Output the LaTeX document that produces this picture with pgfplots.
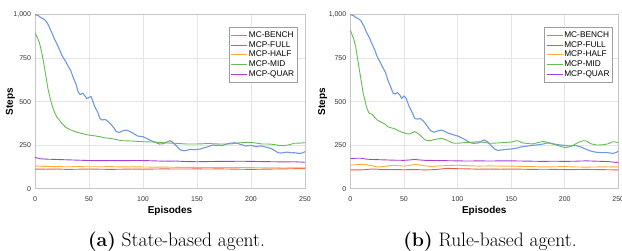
\documentclass[border=0pt]{standalone}
\usepackage{fontspec}
\setsansfont{Liberation Sans}
\usepackage{pgfplots}
\pgfplotsset{compat=1.18}
\definecolor{cblue}{RGB}{112,152,226}
\definecolor{cred}{RGB}{232,92,70}
\definecolor{corange}{RGB}{255,172,60}
\definecolor{cgreen}{RGB}{104,186,84}
\definecolor{cpurple}{RGB}{168,64,212}
\newcommand{\labfont}{\sffamily\bfseries\fontsize{10}{12}\selectfont}
\pgfplotsset{
  mystyle/.style={
    anchor=south west, scale only axis, height=174pt,
    xmin=0, xmax=250, ymin=0, ymax=1000,
    xtick={0,50,100,150,200,250}, ytick={0,250,500,750,1000},
    grid=major, grid style={gray!20, line width=0.6pt},
    axis line style={gray!45, line width=0.6pt},
    major tick length=0pt,
    /pgf/number format/assume math mode=true,
    /pgf/number format/1000 sep={,},
    tick label style={font=\sffamily\fontsize{7}{8}\selectfont, text=black!80},
    xticklabel style={yshift=-4.5pt},
    yticklabel style={xshift=-0.5pt},
    xlabel={Episodes}, ylabel={Steps},
    legend style={draw=gray!75, fill=white,
      font=\sffamily\fontsize{8.3}{9.5}\selectfont, anchor=north west,
      inner xsep=1.5pt, inner ysep=3.2pt, nodes={inner sep=1.2pt}},
    legend cell align=left,
    legend image code/.code={\draw[#1] (0pt,0pt) -- (16pt,0pt);},
    every axis plot/.append style={line width=0.9pt, line join=round, mark=none},
  }
}
\begin{document}
\begin{tikzpicture}
\path[use as bounding box] (0pt,0pt) rectangle (622pt,250pt);
% ---------------- Left panel
\begin{axis}[mystyle, at={(35pt,61.3pt)}, width=270pt,
  every axis x label/.style={at={(axis description cs:0.5,-0.1425)}, anchor=base, font=\labfont},
  every axis y label/.style={at={(axis description cs:-0.0907,0.5)}, rotate=90, anchor=center, font=\labfont},
  legend style={at={(axis description cs:0.7185,0.929)}}]
\addplot[cblue, line width=1.1pt] coordinates {(0,1000)(3,995)(5,985)(8,975)(10,965)(12,945)(15,905)(18,860)(20,835)(23,795)(25,765)(28,735)(30,712)(33,680)(35,645)(38,600)(40,555)(42,540)(44,550)(46,535)(48,518)(50,525)(52,530)(55,475)(58,440)(60,405)(62,395)(65,398)(68,385)(70,372)(73,350)(75,330)(78,322)(80,330)(83,335)(85,337)(88,328)(90,322)(93,310)(95,303)(98,300)(100,299)(103,290)(105,284)(108,275)(110,270)(113,262)(115,257)(118,258)(120,262)(123,270)(125,276)(127,270)(130,252)(133,232)(135,222)(138,218)(140,220)(143,225)(145,226)(148,224)(150,226)(153,228)(155,232)(158,238)(160,241)(163,248)(165,251)(168,248)(170,251)(173,248)(175,252)(178,258)(180,261)(183,263)(185,264)(188,260)(190,255)(193,250)(195,245)(198,248)(200,249)(203,244)(205,241)(208,246)(210,245)(213,240)(215,238)(218,232)(220,226)(223,215)(225,207)(228,205)(230,207)(233,210)(235,209)(238,206)(240,207)(243,204)(245,203)(248,206)(250,213)};
\addlegendentry{MC-BENCH}
\addplot[cred] coordinates {(0,113)(10,112)(20,113)(30,111)(40,112)(50,113)(60,112)(70,111)(80,112)(90,113)(100,112)(110,113)(120,114)(130,113)(140,113)(150,114)(160,113)(170,114)(180,113)(190,112)(200,111)(210,112)(220,113)(230,114)(240,115)(250,115)};
\addlegendentry{MCP-FULL}
\addplot[corange] coordinates {(0,130)(10,128)(20,127)(30,126)(40,127)(50,126)(60,126)(70,127)(80,125)(90,126)(100,125)(110,124)(120,124)(130,123)(140,123)(150,122)(160,122)(170,121)(180,121)(190,122)(200,121)(210,120)(220,120)(230,119)(240,120)(250,120)};
\addlegendentry{MCP-HALF}
\addplot[cgreen] coordinates {(0,895)(2,870)(4,840)(6,790)(8,725)(10,650)(12,575)(14,520)(16,475)(18,440)(20,414)(23,390)(25,375)(28,355)(30,347)(33,338)(35,333)(38,326)(40,322)(45,315)(50,308)(55,304)(60,299)(65,292)(70,289)(75,283)(80,276)(85,275)(90,274)(95,272)(100,270)(110,268)(120,264)(125,262)(130,261)(140,257)(150,257)(155,258)(160,261)(165,258)(170,257)(180,257)(185,260)(190,264)(195,266)(200,266)(205,262)(210,257)(215,257)(220,255)(225,250)(230,247)(235,252)(240,261)(245,262)(250,264)};
\addlegendentry{MCP-MID}
\addplot[cpurple] coordinates {(0,180)(5,172)(10,170)(20,168)(30,166)(40,164)(50,162)(60,161)(70,162)(80,161)(90,162)(100,162)(110,160)(120,158)(130,159)(140,156)(150,155)(160,156)(170,157)(180,157)(190,158)(200,157)(210,156)(220,155)(230,154)(240,155)(250,152)};
\addlegendentry{MCP-QUAR}
\end{axis}
% ---------------- Right panel
\begin{axis}[mystyle, at={(350.3pt,61.3pt)}, width=268pt,
  every axis x label/.style={at={(axis description cs:0.5,-0.1425)}, anchor=base, font=\labfont},
  every axis y label/.style={at={(axis description cs:-0.103,0.5)}, rotate=90, anchor=center, font=\labfont},
  legend style={at={(axis description cs:0.724,0.929)}}]
\addplot[cblue, line width=1.1pt] coordinates {(0,1000)(3,995)(5,985)(8,975)(10,965)(13,930)(15,900)(18,865)(20,835)(23,795)(25,760)(28,725)(30,701)(33,665)(35,625)(38,580)(40,548)(42,545)(44,552)(46,540)(48,519)(50,533)(52,520)(55,471)(58,435)(60,404)(63,400)(65,404)(68,390)(70,375)(73,350)(75,333)(78,325)(80,328)(83,335)(85,337)(88,330)(90,322)(95,312)(100,303)(103,295)(105,289)(108,278)(110,270)(113,263)(115,261)(118,262)(120,264)(123,275)(125,280)(128,270)(130,257)(133,238)(135,226)(138,220)(140,222)(145,226)(150,228)(155,233)(160,241)(165,245)(170,249)(175,252)(180,257)(183,262)(185,264)(188,260)(190,257)(195,252)(200,249)(205,245)(210,249)(215,240)(220,226)(225,215)(230,209)(235,207)(240,207)(245,203)(248,208)(250,216)};
\addlegendentry{MC-BENCH}
\addplot[cred] coordinates {(0,108)(10,108)(20,113)(25,112)(30,110)(40,110)(50,109)(60,110)(70,108)(80,110)(90,117)(100,115)(110,114)(120,112)(130,113)(140,112)(150,113)(160,112)(170,111)(180,112)(190,111)(200,110)(210,110)(220,111)(230,110)(240,109)(250,108)};
\addlegendentry{MCP-FULL}
\addplot[corange] coordinates {(0,135)(5,138)(10,140)(15,138)(20,132)(25,125)(30,127)(35,131)(40,135)(45,132)(50,130)(55,133)(60,140)(65,136)(70,131)(75,128)(80,130)(90,133)(100,135)(110,132)(120,130)(130,131)(140,130)(150,130)(160,128)(170,127)(180,125)(190,126)(200,127)(210,125)(220,124)(230,125)(240,126)(250,125)};
\addlegendentry{MCP-HALF}
\addplot[cgreen] coordinates {(0,912)(3,864)(5,816)(8,701)(10,625)(12,548)(14,500)(15,471)(17,440)(18,433)(20,429)(22,415)(25,395)(28,385)(30,379)(33,368)(35,356)(38,350)(40,347)(43,340)(45,333)(48,325)(50,322)(53,316)(55,314)(58,322)(60,328)(63,318)(65,308)(68,290)(70,280)(73,276)(75,276)(78,282)(80,284)(83,288)(85,289)(88,284)(90,280)(93,270)(95,264)(98,261)(100,261)(105,264)(110,266)(115,268)(120,270)(125,266)(130,261)(135,262)(140,264)(145,266)(150,268)(155,276)(158,272)(160,264)(165,260)(170,257)(175,265)(180,272)(183,268)(185,262)(190,255)(195,246)(200,236)(205,241)(208,250)(210,257)(213,266)(215,272)(218,276)(220,274)(223,264)(225,257)(230,251)(235,252)(240,257)(243,265)(245,270)(248,268)(250,264)};
\addlegendentry{MCP-MID}
\addplot[cpurple] coordinates {(0,172)(5,175)(10,175)(15,170)(20,168)(30,166)(40,164)(50,163)(55,165)(60,168)(65,165)(70,163)(80,162)(90,161)(100,160)(110,159)(120,160)(130,159)(140,160)(150,160)(160,159)(170,158)(180,157)(190,158)(200,157)(210,158)(220,160)(230,158)(240,156)(250,150)};
\addlegendentry{MCP-QUAR}
\end{axis}
\node[anchor=base, font=\fontsize{19.5}{22}\selectfont] at (176.5pt,4pt) {\textbf{(a)} State-based agent.};
\node[anchor=base, font=\fontsize{19.5}{22}\selectfont] at (490pt,4pt) {\textbf{(b)} Rule-based agent.};
\end{tikzpicture}
\end{document}
